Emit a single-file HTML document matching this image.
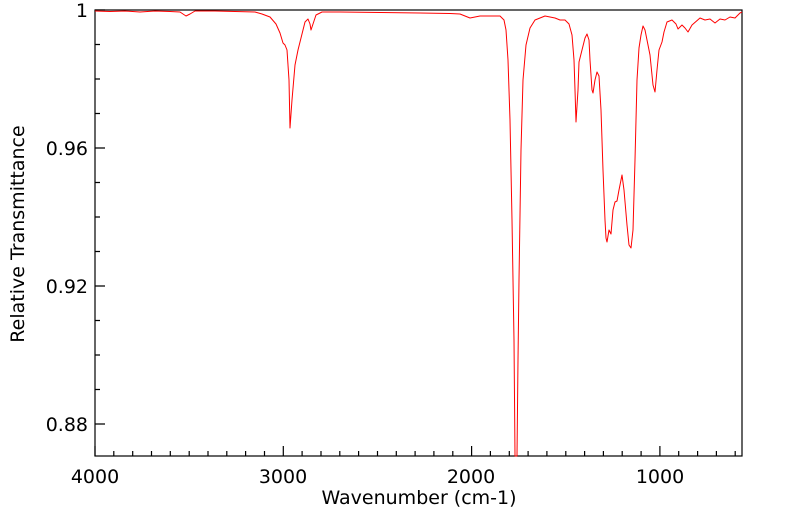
<!DOCTYPE html>
<html><head><style>html,body{margin:0;padding:0;background:#fff}svg{display:block}</style></head>
<body>
<svg width="799" height="516" viewBox="0 0 799 516" xmlns="http://www.w3.org/2000/svg" font-family="DejaVu Sans, Liberation Sans, sans-serif">
<rect x="95" y="10" width="647" height="446" fill="none" stroke="#000" stroke-width="1.2"/>
<g stroke="#000" stroke-width="1.2">
<path d="M95,456v-10 M113.8,456v-5 M132.7,456v-5 M151.5,456v-5 M170.3,456v-5 M189.2,456v-5 M208,456v-5 M226.8,456v-5 M245.6,456v-5 M264.5,456v-5 M283.3,456v-10 M302.1,456v-5 M321,456v-5 M339.8,456v-5 M358.6,456v-5 M377.5,456v-5 M396.3,456v-5 M415.1,456v-5 M433.9,456v-5 M452.8,456v-5 M471.6,456v-10 M490.4,456v-5 M509.3,456v-5 M528.1,456v-5 M546.9,456v-5 M565.8,456v-5 M584.6,456v-5 M603.4,456v-5 M622.2,456v-5 M641.1,456v-5 M659.9,456v-10 M678.7,456v-5 M697.6,456v-5 M716.4,456v-5 M735.2,456v-5"/>
<path d="M95,10h10 M95,44.5h5 M95,79h5 M95,113.5h5 M95,148h10 M95,182.5h5 M95,217h5 M95,251.5h5 M95,286h10 M95,320.5h5 M95,355h5 M95,389.5h5 M95,424h10"/>
</g>
<polyline fill="none" stroke="#ff0000" stroke-width="1" stroke-linejoin="round" points="95,11 110,11.5 125,11 140,12 155,11 170,11.5 180,12 186,16 190,14 195,11 215,11 235,11.5 255,12 262,14 270,17 276,24 280,33 283,43 285,45 287,50 289,80 290,128 292,100 295,65 298,50 302,34 305,22 308,19 310,24 311,30 313,24 316,15 322,12 340,12 380,12.5 420,13 450,13.5 460,14 470,18 480,16 500,16 504,20 506,30 508,60 510,120 512,220 514,340 515,456 517,456 518,360 519,280 521,150 523,80 526,45 530,28 535,20 545,16 555,18 560,20 565,20 569,24 572,35 574,60 575,90 576,122 578,90 579,62 582,50 585,38 587,34 589,40 590,60 592,90 593,93 595,80 597,72 599,76 601,110 603,170 605,220 606,238 607,242 609,230 611,234 613,210 615,202 617,201 619,190 622,175 624,190 627,225 629,245 631,248 633,230 635,160 637,80 639,48 641,35 643,26 645,30 647,40 650,55 653,85 655,92 657,70 659,50 662,42 664,32 667,22 672,20 676,24 678,29 682,25 685,28 688,32 692,25 700,18 705,20 710,19 715,23 720,19 725,20 730,17 735,18 738,15 740,13 742,12"/>
<g font-size="19" fill="#000">
<text x="88" y="17" text-anchor="end">1</text>
<text x="88" y="155" text-anchor="end">0.96</text>
<text x="88" y="293" text-anchor="end">0.92</text>
<text x="88" y="431" text-anchor="end">0.88</text>
<text x="95" y="483" text-anchor="middle">4000</text>
<text x="283" y="483" text-anchor="middle">3000</text>
<text x="471" y="483" text-anchor="middle">2000</text>
<text x="660" y="483" text-anchor="middle">1000</text>
<text x="419" y="504" text-anchor="middle">Wavenumber (cm-1)</text>
<text transform="translate(24,234) rotate(-90)" text-anchor="middle">Relative Transmittance</text>
</g>
</svg>
</body></html>
